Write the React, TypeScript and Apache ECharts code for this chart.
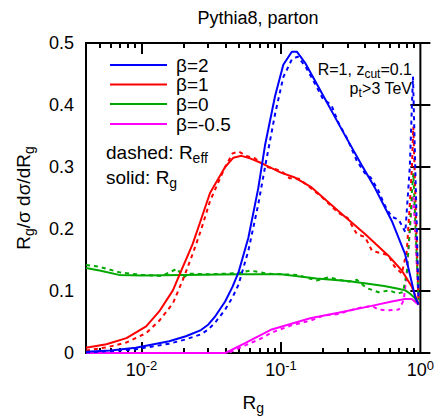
import React, { useEffect, useRef } from 'react';
import * as echarts from 'echarts';

// ---- data (R values and normalised distributions) ----
const R_B2_SOLID = [0.004, 0.006, 0.0091, 0.0158, 0.0208, 0.0267, 0.0302, 0.034, 0.0398, 0.045, 0.0496, 0.0584, 0.0688, 0.0769, 0.0907, 0.104, 0.1197, 0.13, 0.149, 0.185, 0.288, 0.38, 0.473, 0.624, 0.776, 0.916, 0.97];
const Y_B2_SOLID = [0.002, 0.004, 0.0085, 0.019, 0.027, 0.037, 0.046, 0.060, 0.083, 0.107, 0.130, 0.186, 0.266, 0.335, 0.414, 0.465, 0.486, 0.486, 0.468, 0.430, 0.351, 0.303, 0.266, 0.213, 0.160, 0.091, 0.078];
const R_B2_DASHED = [0.004, 0.006, 0.0091, 0.0158, 0.0208, 0.0267, 0.0302, 0.034, 0.0398, 0.045, 0.0496, 0.0584, 0.0688, 0.0769, 0.0907, 0.104, 0.12, 0.132, 0.15, 0.17, 0.2, 0.23, 0.26, 0.3, 0.35, 0.4, 0.44, 0.5, 0.55, 0.62, 0.7, 0.78, 0.84, 0.87, 0.885, 0.97];
const Y_B2_DASHED = [0.001, 0.003, 0.006, 0.015, 0.022, 0.030, 0.038, 0.050, 0.070, 0.090, 0.110, 0.165, 0.240, 0.300, 0.385, 0.445, 0.474, 0.478, 0.462, 0.440, 0.410, 0.400, 0.370, 0.345, 0.310, 0.290, 0.283, 0.262, 0.240, 0.220, 0.215, 0.195, 0.300, 0.400, 0.446, 0.090];

const R_B1_SOLID = [0.004, 0.0056, 0.0078, 0.0108, 0.0134, 0.0168, 0.0198, 0.0233, 0.0267, 0.031, 0.0347, 0.0398, 0.0456, 0.052, 0.06, 0.073, 0.1, 0.126, 0.166, 0.258, 0.401, 0.59, 0.736, 0.868, 0.97];
const Y_B1_SOLID = [0.0085, 0.014, 0.024, 0.043, 0.067, 0.101, 0.139, 0.176, 0.215, 0.258, 0.277, 0.300, 0.315, 0.318, 0.314, 0.306, 0.291, 0.283, 0.267, 0.229, 0.192, 0.157, 0.133, 0.107, 0.078];
const R_B1_DASHED = [0.004, 0.0056, 0.0078, 0.0108, 0.0134, 0.0168, 0.0198, 0.0233, 0.0267, 0.031, 0.0347, 0.0398, 0.045, 0.05, 0.056, 0.065, 0.08, 0.1, 0.115, 0.135, 0.166, 0.2, 0.258, 0.3, 0.35, 0.401, 0.45, 0.5, 0.59, 0.65, 0.736, 0.8, 0.84, 0.87, 0.89, 0.97];
const Y_B1_DASHED = [0.004, 0.009, 0.017, 0.032, 0.052, 0.080, 0.118, 0.160, 0.198, 0.245, 0.270, 0.300, 0.322, 0.325, 0.318, 0.314, 0.300, 0.294, 0.282, 0.281, 0.265, 0.250, 0.226, 0.218, 0.192, 0.187, 0.165, 0.162, 0.158, 0.140, 0.128, 0.165, 0.240, 0.300, 0.365, 0.080];

const R_B0_SOLID = [0.004, 0.005, 0.0069, 0.01, 0.02, 0.05, 0.1, 0.18, 0.3, 0.41, 0.55, 0.68, 0.78, 0.84, 0.9, 0.97];
const Y_B0_SOLID = [0.137, 0.133, 0.126, 0.125, 0.126, 0.127, 0.127, 0.120, 0.116, 0.112, 0.108, 0.104, 0.101, 0.096, 0.090, 0.080];
const R_B0_DASHED = [0.004, 0.005, 0.007, 0.01, 0.014, 0.018, 0.02, 0.022, 0.03, 0.04, 0.05, 0.06, 0.08, 0.1, 0.13, 0.18, 0.22, 0.3, 0.35, 0.41, 0.5, 0.6, 0.68, 0.75, 0.8, 0.84, 0.87, 0.89, 0.97];
const Y_B0_DASHED = [0.142, 0.139, 0.130, 0.126, 0.124, 0.136, 0.122, 0.128, 0.127, 0.128, 0.129, 0.133, 0.128, 0.127, 0.126, 0.117, 0.122, 0.115, 0.118, 0.105, 0.098, 0.101, 0.096, 0.098, 0.130, 0.200, 0.260, 0.290, 0.085];

const R_BM_SOLID = [0.004, 0.04, 0.0553, 0.0859, 0.162, 0.258, 0.448, 0.624, 0.776, 0.868, 0.97];
const Y_BM_SOLID = [0, 0, 0.016, 0.038, 0.056, 0.065, 0.076, 0.083, 0.087, 0.087, 0.078];
const R_BM_DASHED = [0.004, 0.042, 0.055, 0.07, 0.0859, 0.12, 0.162, 0.2, 0.258, 0.35, 0.448, 0.5, 0.6, 0.7, 0.76, 0.8, 0.84, 0.87, 0.89, 0.97];
const Y_BM_DASHED = [0, 0, 0.012, 0.022, 0.033, 0.045, 0.052, 0.060, 0.063, 0.072, 0.076, 0.070, 0.069, 0.070, 0.085, 0.130, 0.200, 0.240, 0.255, 0.085];

const LEGEND_LABELS = ['β=2', 'β=1', 'β=0', 'β=-0.5'];
const COLORS = ['#0000ff', '#ff0000', '#00a800', '#ff00ff'];
const X_LABEL_EXPONENTS = [-2, -1, 0];
const Y_TICKS = { min: 0, max: 0.5, interval: 0.1 };
const R_MIN = 0.004;
const R_MAX = 1;

const FONT = "'Liberation Sans', Arial, Helvetica, sans-serif";

export default function App() {
  const ref = useRef<HTMLDivElement>(null);
  useEffect(() => {
    const chart = echarts.init(ref.current!, null, { renderer: 'svg' });
    const toData = (rs: number[], ys: number[]) => rs.map((r, i) => [Math.log10(r), ys[i]]);
    const xMin = Math.log10(R_MIN);
    const xMax = Math.log10(R_MAX);
    const major = X_LABEL_EXPONENTS.filter((e) => e > xMin && e < xMax);
    const minor: number[] = [];
    for (let n = -3; n <= -1; n++) {
      for (let k = 2; k <= 9; k++) {
        const v = Math.log10(k * Math.pow(10, n));
        if (v > xMin + 1e-9 && v < xMax) minor.push(v);
      }
    }
    const solids = [
      toData(R_B2_SOLID, Y_B2_SOLID),
      toData(R_B1_SOLID, Y_B1_SOLID),
      toData(R_B0_SOLID, Y_B0_SOLID),
      toData(R_BM_SOLID, Y_BM_SOLID),
    ];
    const dashes = [
      toData(R_B2_DASHED, Y_B2_DASHED),
      toData(R_B1_DASHED, Y_B1_DASHED),
      toData(R_B0_DASHED, Y_B0_DASHED),
      toData(R_BM_DASHED, Y_BM_DASHED),
    ];
    const series: any[] = [];
    for (let i = 3; i >= 0; i--) {
      series.push({
        type: 'line', name: LEGEND_LABELS[i] + ' (R_eff)', data: dashes[i], showSymbol: false,
        lineStyle: { color: COLORS[i], width: 2, type: [4, 4] }, itemStyle: { color: COLORS[i] },
      });
      series.push({
        type: 'line', name: LEGEND_LABELS[i], data: solids[i], showSymbol: false,
        lineStyle: { color: COLORS[i], width: 2 }, itemStyle: { color: COLORS[i] },
      });
    }
    const tickLine = { color: '#000', width: 2 };
    const xBase = {
      type: 'value', min: xMin, max: xMax, splitLine: { show: false },
      axisLine: { show: false },
    };
    const sub = (base: number, s: number, pad: number) => ({
      n: { fontSize: base, fontFamily: FONT, color: '#000' },
      s: { fontSize: s, fontFamily: FONT, color: '#000', verticalAlign: 'bottom', padding: [pad, 0, 0, 0] },
    });
    const legendGraphics: any[] = [];
    const legendY = [65, 84.5, 104, 124];
    LEGEND_LABELS.forEach((lab, i) => {
      legendGraphics.push({
        type: 'line', shape: { x1: 110, y1: legendY[i], x2: 167, y2: legendY[i] },
        style: { stroke: COLORS[i], lineWidth: 2 },
      });
      legendGraphics.push({
        type: 'text', x: 176, y: legendY[i],
        style: { text: lab, fontSize: 19, fontFamily: FONT, fill: '#000', verticalAlign: 'middle', align: 'left' },
      });
    });
    chart.setOption({
      animation: false,
      backgroundColor: '#fff',
      title: {
        text: 'Pythia8, parton', left: 253, top: 4, textAlign: 'center',
        textStyle: { fontSize: 18, fontWeight: 'normal', fontFamily: FONT, color: '#000' },
      },
      grid: { left: 86, top: 43, right: 16, bottom: 63, show: true, borderColor: '#000', borderWidth: 2 },
      xAxis: [
        {
          ...xBase, position: 'bottom',
          axisTick: { inside: true, length: 11, customValues: major, lineStyle: tickLine },
          axisLabel: {
            customValues: X_LABEL_EXPONENTS, margin: 6,
            formatter: (v: number) => `{b|10}{e|${Math.round(v)}}`,
            rich: {
              b: { fontSize: 18, fontFamily: FONT, color: '#000' },
              e: { fontSize: 13, fontFamily: FONT, color: '#000', verticalAlign: 'top', padding: [0, 0, 8, 0] },
            },
          },
          name: '{n|R}{s|g}', nameLocation: 'middle', nameGap: 36,
          nameTextStyle: { rich: sub(19, 14, 12) },
        },
        {
          ...xBase, position: 'bottom',
          axisTick: { inside: true, length: 5, customValues: minor, lineStyle: tickLine },
          axisLabel: { show: false },
        },
        {
          ...xBase, position: 'top',
          axisTick: { inside: true, length: 11, customValues: major, lineStyle: tickLine },
          axisLabel: { show: false },
        },
        {
          ...xBase, position: 'top',
          axisTick: { inside: true, length: 5, customValues: minor, lineStyle: tickLine },
          axisLabel: { show: false },
        },
      ],
      yAxis: [
        {
          type: 'value', ...Y_TICKS, position: 'left', splitLine: { show: false }, axisLine: { show: false },
          axisTick: { inside: true, length: 10, lineStyle: tickLine },
          axisLabel: { fontSize: 18, fontFamily: FONT, color: '#000', margin: 12 },
          name: '{n|R}{s|g}{n|/σ dσ/dR}{s|g}', nameLocation: 'middle', nameGap: 50,
          nameTextStyle: { rich: sub(19, 14, 12) },
        },
        {
          type: 'value', ...Y_TICKS, position: 'right', splitLine: { show: false }, axisLine: { show: false },
          axisTick: { inside: true, length: 10, lineStyle: tickLine },
          axisLabel: { show: false },
        },
      ],
      series,
      graphic: [
        ...legendGraphics,
        {
          type: 'text', x: 106, y: 152,
          style: { text: '{n|dashed: R}{s|eff}', verticalAlign: 'middle', rich: sub(19, 14, 12) },
        },
        {
          type: 'text', x: 106, y: 177,
          style: { text: '{n|solid: R}{s|g}', verticalAlign: 'middle', rich: sub(19, 14, 12) },
        },
        {
          type: 'text', x: 412, y: 69,
          style: { text: '{n|R=1, z}{s|cut}{n|=0.1}', align: 'right', verticalAlign: 'middle', rich: sub(16, 12, 10) },
        },
        {
          type: 'text', x: 412, y: 88,
          style: { text: '{n|p}{s|t}{n|>3 TeV}', align: 'right', verticalAlign: 'middle', rich: sub(16, 12, 10) },
        },
      ],
    });
    return () => chart.dispose();
  }, []);
  return <div ref={ref} style={{ position: 'fixed', left: 0, top: 0, width: 437, height: 420 }} />;
}
